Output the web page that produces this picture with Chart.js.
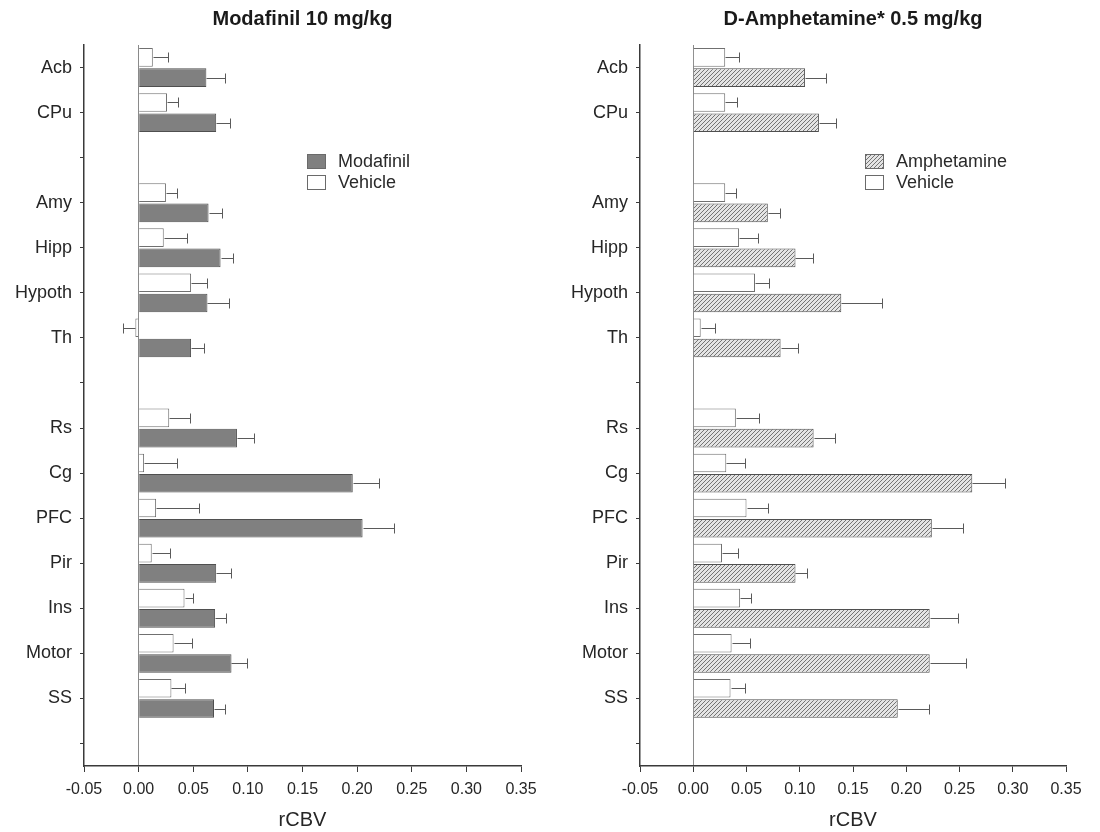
<!DOCTYPE html>
<html>
<head>
<meta charset="utf-8">
<script src="https://cdn.jsdelivr.net/npm/chart.js@4/dist/chart.umd.min.js"></script>
<style>
  html, body { margin: 0; padding: 0; background: #fff; }
  #wrap { display: flex; width: 1100px; height: 832px; }
  canvas { display: block; }
</style>
</head>
<body>
<div id="wrap">
  <canvas id="modafinil" width="550" height="832"></canvas>
  <canvas id="amphetamine" width="550" height="832"></canvas>
</div>
<script>
// Brain regions (blank entries are spacer rows between region groups)
const regions = ['Acb', 'CPu', '', 'Amy', 'Hipp', 'Hypoth', 'Th', '', 'Rs', 'Cg', 'PFC', 'Pir', 'Ins', 'Motor', 'SS', ''];

// rCBV means and SEM, modafinil 10 mg/kg experiment
const modafinilMean    = [0.062, 0.071, null, 0.064, 0.075, 0.063, 0.048, null, 0.090, 0.196, 0.205, 0.071, 0.070, 0.085, 0.069, null];
const modafinilSem     = [0.017, 0.013, null, 0.012, 0.011, 0.020, 0.012, null, 0.016, 0.024, 0.029, 0.014, 0.010, 0.014, 0.010, null];
const modVehicleMean   = [0.013, 0.026, null, 0.025, 0.023, 0.048, -0.003, null, 0.028, 0.005, 0.016, 0.012, 0.042, 0.032, 0.030, null];
const modVehicleSem    = [0.014, 0.010, null, 0.010, 0.021, 0.015, 0.011, null, 0.019, 0.030, 0.039, 0.017, 0.008, 0.017, 0.012, null];

// rCBV means and SEM, D-amphetamine 0.5 mg/kg experiment
const amphetamineMean  = [0.105, 0.118, null, 0.070, 0.096, 0.139, 0.082, null, 0.113, 0.262, 0.224, 0.096, 0.222, 0.222, 0.192, null];
const amphetamineSem   = [0.020, 0.016, null, 0.011, 0.016, 0.038, 0.016, null, 0.020, 0.031, 0.029, 0.011, 0.027, 0.034, 0.029, null];
const amphVehicleMean  = [0.030, 0.030, null, 0.030, 0.043, 0.058, 0.007, null, 0.040, 0.031, 0.050, 0.027, 0.044, 0.036, 0.035, null];
const amphVehicleSem   = [0.013, 0.011, null, 0.010, 0.018, 0.013, 0.013, null, 0.022, 0.018, 0.020, 0.015, 0.010, 0.017, 0.014, null];

// x axis range
const xMin = -0.05, xMax = 0.35, xStep = 0.05;

const FONT = "'Liberation Sans', Arial, Helvetica, sans-serif";
const TEXT = '#262626';
const AXIS = '#3a3a3a';

// Diagonal hatch fill used for the amphetamine bars
function makeHatch() {
  const c = document.createElement('canvas');
  c.width = 4; c.height = 4;
  const g = c.getContext('2d');
  g.fillStyle = '#e4e4e4';
  g.fillRect(0, 0, 4, 4);
  g.strokeStyle = '#747474';
  g.lineWidth = 1;
  g.beginPath();
  g.moveTo(-1, 5); g.lineTo(5, -1);
  g.moveTo(-1, 1); g.lineTo(1, -1);
  g.moveTo(3, 5); g.lineTo(5, 3);
  g.stroke();
  return g.createPattern(c, 'repeat');
}
const hatch = makeHatch();

// Error bars drawn from each dataset's `sem` array, extending away from zero
const errorBars = {
  id: 'errorBars',
  afterDatasetsDraw(chart) {
    const ctx = chart.ctx;
    const xs = chart.scales.x;
    ctx.save();
    ctx.strokeStyle = '#5a5a5a';
    ctx.lineWidth = 1;
    chart.data.datasets.forEach((ds, di) => {
      const meta = chart.getDatasetMeta(di);
      meta.data.forEach((bar, i) => {
        const v = ds.data[i];
        const e = ds.sem[i];
        if (v == null || e == null) return;
        const end = v + (v < 0 ? -e : e);
        const x0 = Math.round(bar.x) + 0.5;
        const x1 = Math.round(xs.getPixelForValue(end)) + 0.5;
        const y = Math.round(bar.y) + 0.5;
        const half = 5;
        ctx.beginPath();
        ctx.moveTo(x0, y); ctx.lineTo(x1, y);
        ctx.moveTo(x1, y - half); ctx.lineTo(x1, y + half);
        ctx.stroke();
      });
    });
    ctx.restore();
  }
};

// Panel title centred over the plot area, and the boxed legend inside it
const panelDecor = {
  id: 'panelDecor',
  afterDraw(chart, args, opts) {
    const ctx = chart.ctx;
    const area = chart.chartArea;
    ctx.save();
    ctx.fillStyle = '#1a1a1a';
    ctx.font = "bold 20px " + FONT;
    ctx.textAlign = 'center';
    ctx.textBaseline = 'middle';
    ctx.fillText(opts.title, (area.left + area.right) / 2, 19);

    // legend entries in reverse dataset order (drug first, then vehicle)
    const items = chart.data.datasets.slice().reverse();
    const lx = area.left + opts.legendX;
    let ly = area.top + opts.legendY;
    ctx.font = "18px " + FONT;
    ctx.textAlign = 'left';
    items.forEach(ds => {
      ctx.fillStyle = ds.backgroundColor;
      ctx.fillRect(lx, ly, 19, 15);
      ctx.strokeStyle = '#6a6a6a';
      ctx.lineWidth = 1;
      ctx.strokeRect(lx + 0.5, ly + 0.5, 18, 14);
      ctx.fillStyle = '#2a2a2a';
      ctx.fillText(ds.label, lx + 31, ly + 8);
      ly += 21;
    });
    ctx.restore();
  }
};

function buildPanel(canvasId, cfg) {
  return new Chart(document.getElementById(canvasId), {
    type: 'bar',
    data: {
      labels: regions,
      datasets: [
        {
          label: 'Vehicle',
          data: cfg.vehMean,
          sem: cfg.vehSem,
          backgroundColor: '#ffffff',
          borderColor: '#707070',
          borderWidth: 1
        },
        {
          label: cfg.drugLabel,
          data: cfg.drugMean,
          sem: cfg.drugSem,
          backgroundColor: cfg.drugFill,
          borderColor: cfg.drugBorder,
          borderWidth: 1
        }
      ]
    },
    options: {
      indexAxis: 'y',
      responsive: false,
      animation: false,
      events: [],
      categoryPercentage: 0.9,
      barPercentage: 0.92,
      layout: { padding: { top: 45, right: cfg.padRight, bottom: 0, left: 0 } },
      plugins: {
        legend: { display: false },
        tooltip: { enabled: false },
        panelDecor: { title: cfg.title, legendX: cfg.legendX, legendY: 109 }
      },
      scales: {
        y: {
          type: 'category',
          offset: true,
          afterFit(scale) { scale.width = cfg.yWidth; },
          border: { display: true, color: AXIS, width: 1.5 },
          grid: {
            offset: false,
            drawOnChartArea: false,
            drawTicks: true,
            tickLength: 4,
            tickColor: AXIS
          },
          ticks: {
            autoSkip: false,
            padding: 8,
            color: TEXT,
            font: { family: FONT, size: 18 }
          }
        },
        x: {
          type: 'linear',
          min: xMin,
          max: xMax,
          afterFit(scale) { scale.height = 66; },
          afterBuildTicks(scale) {
            const t = [];
            for (let k = 0; k <= Math.round((xMax - xMin) / xStep); k++) {
              t.push({ value: +(xMin + k * xStep).toFixed(2) });
            }
            scale.ticks = t;
          },
          border: { display: true, color: AXIS, width: 1.5 },
          grid: {
            drawOnChartArea: true,
            drawTicks: true,
            tickLength: 6,
            tickColor: AXIS,
            lineWidth: 1,
            color: ctx => (ctx.tick && Math.abs(ctx.tick.value) < 1e-9) ? '#8a8a8a' : 'rgba(0,0,0,0)'
          },
          ticks: {
            padding: 8,
            color: TEXT,
            font: { family: FONT, size: 16 },
            callback: v => Number(v).toFixed(2)
          },
          title: {
            display: true,
            text: 'rCBV',
            color: TEXT,
            font: { family: FONT, size: 20 },
            padding: { top: 2, bottom: 0 }
          }
        }
      }
    },
    plugins: [errorBars, panelDecor]
  });
}

buildPanel('modafinil', {
  title: 'Modafinil 10 mg/kg',
  drugLabel: 'Modafinil',
  drugMean: modafinilMean,
  drugSem: modafinilSem,
  vehMean: modVehicleMean,
  vehSem: modVehicleSem,
  drugFill: '#808080',
  drugBorder: '#4f4f4f',
  yWidth: 84,
  padRight: 29,
  legendX: 223
});

buildPanel('amphetamine', {
  title: 'D-Amphetamine* 0.5 mg/kg',
  drugLabel: 'Amphetamine',
  drugMean: amphetamineMean,
  drugSem: amphetamineSem,
  vehMean: amphVehicleMean,
  vehSem: amphVehicleSem,
  drugFill: hatch,
  drugBorder: '#4f4f4f',
  yWidth: 90,
  padRight: 34,
  legendX: 225
});
</script>
</body>
</html>
